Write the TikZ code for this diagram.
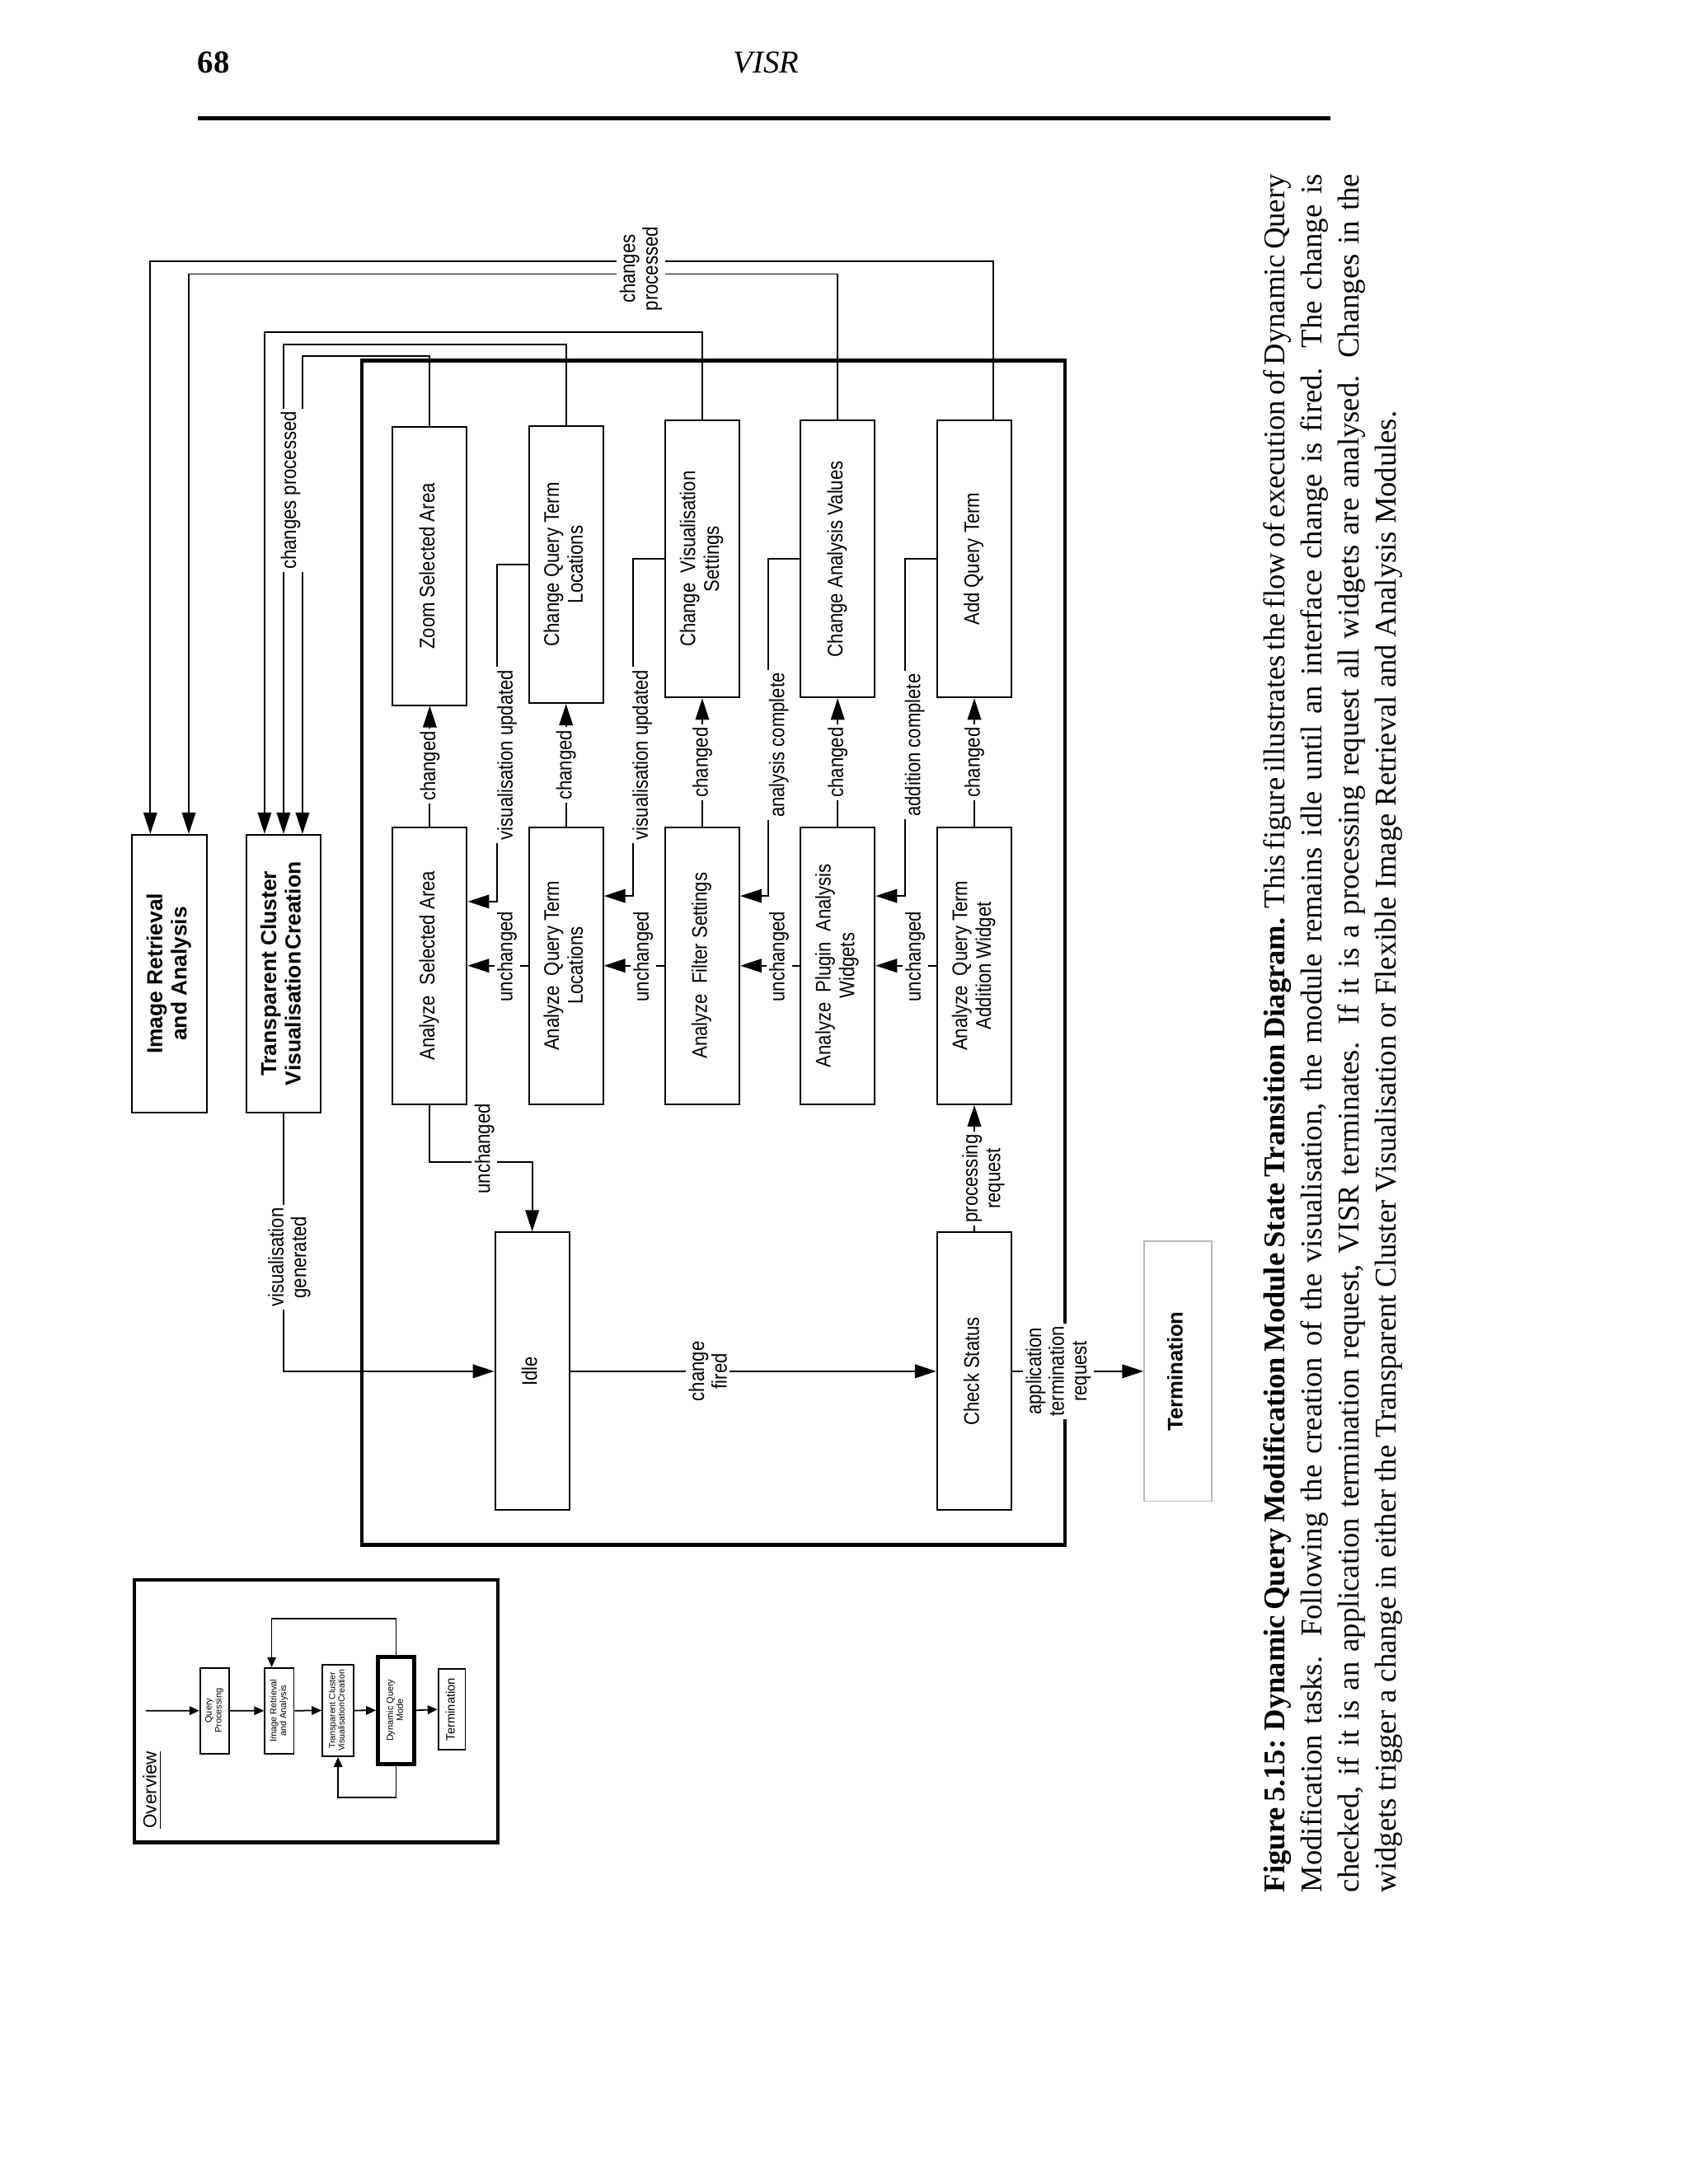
\documentclass[tikz,border=0pt]{standalone}
\usepackage{fontspec}
\setmainfont{Liberation Serif}
\newfontfamily\dsans{Liberation Sans}
\newfontfamily\nsans[FakeStretch=0.86]{Liberation Sans}
\usetikzlibrary{arrows.meta,calc}
\def\U{*0.016898cm}
\newcommand\rtx[1]{\rotatebox{90}{\begin{tabular}{@{}c@{}}#1\end{tabular}}}
\begin{document}
\begin{tikzpicture}[x=0.016898cm,y=-0.016898cm,
  box/.style={draw, line width=0.55pt, inner sep=0pt, minimum width=53.3\U, minimum height=199\U, font=\nsans\fontsize{7.3}{8.2}\selectfont},
  bbox/.style={box, font=\dsans\bfseries\fontsize{7.5}{8.4}\selectfont},
  lbl/.style={fill=white, inner sep=1pt, rotate=90, align=center, font=\nsans\fontsize{7.3}{7.8}\selectfont},
  arr/.style={line width=0.55pt, -{Triangle[length=0.26cm,width=0.165cm]}},
  obox/.style={draw, line width=0.5pt, inner sep=0pt, font=\dsans\fontsize{3.1}{3.4}\selectfont},
  oarr/.style={line width=0.5pt, -{Triangle[length=0.12cm,width=0.105cm]}}]
\useasboundingbox (0,0) rectangle (1212,1568);

% header
\node[font=\bfseries\fontsize{11}{13}\selectfont, anchor=base, inner sep=0] (pg) at (153.4,52.3) {68};
\node[font=\itshape\fontsize{11}{13}\selectfont, anchor=base, inner sep=0] (hd) at (550,52.3) {VISR};
\coordinate (rl) at (142,85);
\coordinate (rr) at (955,85);
\draw[line width=1.4pt] (rl) -- (rr);

% module frame
\node[draw, line width=1.3pt, minimum width=504.7\U, minimum height=850\U, inner sep=0] (frame) at (512.15,684) {};

% outer modules
\node[bbox, minimum width=54.1\U, minimum height=199.4\U] (ira) at (121.7,699) {\rtx{Image Retrieval\\and Analysis}};
\node[bbox, minimum width=53.3\U, minimum height=199.4\U] (tcv) at (203.5,699) {\rtx{Transparent Cluster\\Visualisation\hspace{0.6pt}Creation}};

% change row
\node[box, minimum height=199.5\U] (zsa) at (308.5,406.5) {\rtx{Zoom Selected Area}};
\node[box] (cqtl) at (406.3,405.3) {\rtx{Change Query Term\\Locations}};
\node[box] (cvs) at (504.1,401.3) {\rtx{Change\ \ Visualisation\\Settings}};
\node[box] (cav) at (601.3,401.3) {\rtx{Change Analysis Values}};
\node[box] (aqt) at (699.4,401.3) {\rtx{Add Query Term}};

% analyze row
\node[box] (asa) at (308.5,693.3) {\rtx{Analyze\ \ Selected Area}};
\node[box] (aqtl) at (406.3,693.3) {\rtx{Analyze\ \ Query Term\\Locations}};
\node[box] (afs) at (504.1,693.3) {\rtx{Analyze\ \ Filter Settings}};
\node[box] (apaw) at (601.3,693.3) {\rtx{Analyze\ \ Plugin\ \ Analysis\\Widgets}};
\node[box] (aqtaw) at (699.4,693.3) {\rtx{Analyze\ \ Query Term\\Addition Widget}};

% bottom row
\node[box, minimum height=199.4\U] (idle) at (382,984.5) {\rtx{Idle}};
\node[box, minimum height=199.4\U] (cs) at (699.3,984.5) {\rtx{Check Status}};
\node[box, draw=gray!55, line width=0.45pt, minimum width=48.3\U, minimum height=186.5\U, font=\dsans\bfseries\fontsize{7.3}{8.2}\selectfont] (term) at (845.5,984.5) {\rtx{Termination}};

% changes processed lines
\draw[arr] ($(aqt.north west)!0.75!(aqt.north east)$) -- ++(0,-113.7) -| ($(ira.north west)!0.25!(ira.north east)$);
\draw[arr] (cav.north) -- ++(0,-104.5) -| ($(ira.north west)!0.75!(ira.north east)$);
\draw[arr] (cvs.north) -- ++(0,-62.6) -| ($(tcv.north west)!0.25!(tcv.north east)$);
\draw[arr] (cqtl.north) -- ++(0,-58) -| (tcv.north);
\draw[arr] (zsa.north) -- ++(0,-50.8) -| ($(tcv.north west)!0.75!(tcv.north east)$);
\node[lbl] (lcp1) at (460,193) {changes\\processed};
\node[lbl] (lcp2) at (208.5,352) {changes processed};

% changed
\draw[arr] (asa.north) -- (zsa.south) node[lbl, midway] {changed};
\draw[arr] (aqtl.north) -- (cqtl.south) node[lbl, midway] {changed};
\draw[arr] (afs.north) -- (cvs.south) node[lbl, midway] {changed};
\draw[arr] (apaw.north) -- (cav.south) node[lbl, midway] {changed};
\draw[arr] (aqtaw.north) -- (aqt.south) node[lbl, midway] {changed};

% returns
\draw[arr] (cqtl.west) -- ++(-22.5,0) |- ($(asa.north east)!0.27!(asa.south east)$);
\draw[arr] (cvs.west) -- ++(-22.5,0) |- ($(aqtl.north east)!0.25!(aqtl.south east)$);
\draw[arr] (cav.west) -- ++(-22.5,0) |- ($(afs.north east)!0.25!(afs.south east)$);
\draw[arr] (aqt.west) -- ++(-22.5,0) |- ($(apaw.north east)!0.25!(apaw.south east)$);
\node[lbl] (lv1) at (364,542) {visualisation updated};
\node[lbl] (lv2) at (461,542) {visualisation updated};
\node[lbl] (lv3) at (559,535) {analysis complete};
\node[lbl] (lv4) at (656.6,535) {addition complete};

% unchanged
\draw[arr] (aqtl.west) -- (asa.east);
\draw[arr] (afs.west) -- (aqtl.east);
\draw[arr] (apaw.west) -- (afs.east);
\draw[arr] (aqtaw.west) -- (apaw.east);
\node[lbl] (lu1) at ($(aqtl.west)!0.5!(asa.east)+(6.5,-6.5)$) {unchanged};
\node[lbl] (lu2) at ($(afs.west)!0.5!(aqtl.east)+(6.5,-6.5)$) {unchanged};
\node[lbl] (lu3) at ($(apaw.west)!0.5!(afs.east)+(6.5,-6.5)$) {unchanged};
\node[lbl] (lu4) at ($(aqtaw.west)!0.5!(apaw.east)+(6.5,-6.5)$) {unchanged};

% lower connectors
\draw[arr] (asa.south) -- ++(0,40.8) -| (idle.north);
\node[lbl] (lu) at (347.7,824.7) {unchanged};
\draw[arr] (tcv.south) |- (idle.west);
\node[lbl] (lvg) at (207.7,902.8) {visualisation\\generated};
\draw[arr] (idle.east) -- (cs.west) node[lbl, pos=0.376] {change\\fired};
\draw[arr] (cs.north) -- (aqtaw.south);
\node[lbl] (lpr) at ($(cs.north)!0.42!(aqtaw.south)+(6.5,0)$) {processing\\request};
\draw[arr] (cs.east) -- (term.west) node[lbl, pos=0.352] {application\\termination\\request};

% overview
\node[draw, line width=1.2pt, minimum width=261.1\U, minimum height=188.4\U, inner sep=0] (ov) at (226.85,1228.5) {};
\node[rotate=90, inner sep=0, font=\dsans\fontsize{6.4}{7}\selectfont] (ovt) at (109.5,1285) {\underline{Overview}};
\node[obox, minimum width=20.7\U, minimum height=61.5\U] (oqp) at (153.95,1228.15) {\rtx{Query\\Processing}};
\node[obox, minimum width=20.9\U, minimum height=61.5\U] (oira) at (200.5,1228.2) {\rtx{Image Retrieval\\and Analysis}};
\node[obox, minimum width=22.5\U, minimum height=66\U, font=\dsans\fontsize{3.0}{3.2}\selectfont] (otcv) at (242.65,1228) {\rtx{Transparent Cluster\\VisualisationCreation}};
\node[obox, line width=1.3pt, minimum width=26.1\U, minimum height=76.9\U] (odqm) at (284.25,1227.95) {\rtx{Dynamic Query\\Mode}};
\node[obox, minimum width=19.4\U, minimum height=57.6\U, font=\dsans\fontsize{4.2}{5}\selectfont] (oterm) at (324.3,1227.2) {\rtx{Termination}};
\coordinate (ostart) at (104.6,1228.2);
\draw[oarr] (ostart) -- (oqp.west);
\draw[oarr] (oqp.east) -- (oira.west);
\draw[oarr] (oira.east) -- (otcv.west);
\draw[oarr] (otcv.east) -- (odqm.west);
\draw[oarr] (odqm.east) -- (oterm.west);
\draw[oarr] (odqm.north) -- ++(0,-26) -| ($(oira.north west)!0.25!(oira.north east)$);
\draw[oarr] (odqm.south) -- ++(0,22.6) -| (otcv.south);

% caption
\node[rotate=90, anchor=base west, inner sep=0] (cap) at (922.2,1359) {\vtop{\hsize=20.835cm
\fontsize{10.4}{12.8}\selectfont\spaceskip=0.25em plus 0.6em minus 0.1em
\hbox to\hsize{\textbf{Figure 5.15: Dynamic Query Modification Module State Transition Diagram.} This figure illustrates the flow of execution of Dynamic Query}
\hbox to\hsize{Modification tasks. Following the creation of the visualisation, the module remains idle until an interface change is fired. The change is}
\hbox to\hsize{checked, if it is an application termination request, VISR terminates. If it is a processing request all widgets are analysed. Changes in the}
\hbox{widgets trigger a change in either the Transparent Cluster Visualisation or Flexible Image Retrieval and Analysis Modules.}}};
\end{tikzpicture}
\end{document}
